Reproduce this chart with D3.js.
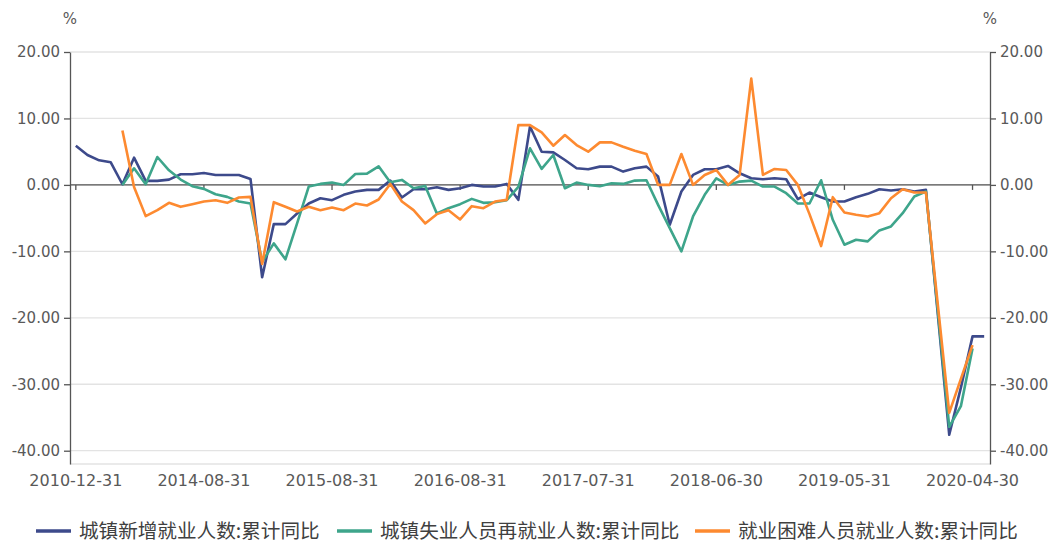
<!DOCTYPE html>
<html lang="zh">
    <head>
        <meta charset="utf-8">
        <title>就业人数累计同比</title>
        <script type="text/javascript" src="https://d3js.org/d3.v7.min.js"></script>
        <style type="text/css">
          body {
            margin: 0;
            background: #fff;
          }
          .axis path,
          .axis line {
            fill: none;
            stroke: #555;
            stroke-width: 1.3px;
          }
          .axis text {
            font-family: "DejaVu Sans", sans-serif;
            font-size: 15px;
            fill: #595959;
          }
          .xlabels text {
            font-size: 16px;
          }
          .grid line {
            stroke: #e3e3e3;
            stroke-width: 1.3px;
          }
          .unit {
            font-family: "DejaVu Sans", sans-serif;
            font-size: 15px;
            fill: #595959;
          }
          .legend text {
            font-family: "Noto Sans CJK SC", sans-serif;
            font-size: 19.6px;
            fill: #404040;
          }
          .series {
            fill: none;
            stroke-width: 2.6px;
            stroke-linejoin: round;
          }
        </style>
    </head>
    <body>
        <script type="text/javascript">
          var w = 1058;
          var h = 546;
          var marginLeft = 70;
          var marginRight = 68;
          var marginTop = 52;
          var plotBottom = 464;

          // months on the x axis (annual points first, then monthly)
          var dates = [
            "2010-12-31","2011-12-31","2012-12-31","2013-12-31",
            "2014-01-31","2014-02-28","2014-03-31","2014-04-30","2014-05-31","2014-06-30",
            "2014-07-31","2014-08-31","2014-09-30","2014-10-31","2014-11-30","2014-12-31",
            "2015-02-28","2015-03-31","2015-04-30","2015-05-31","2015-06-30","2015-07-31",
            "2015-08-31","2015-09-30","2015-10-31","2015-11-30","2015-12-31",
            "2016-02-29","2016-03-31","2016-04-30","2016-05-31","2016-06-30","2016-07-31",
            "2016-08-31","2016-09-30","2016-10-31","2016-11-30","2016-12-31",
            "2017-01-31","2017-02-28","2017-03-31","2017-04-30","2017-05-31","2017-06-30",
            "2017-07-31","2017-08-31","2017-09-30","2017-10-31","2017-11-30","2017-12-31",
            "2018-01-31","2018-02-28","2018-03-31","2018-04-30","2018-05-31","2018-06-30",
            "2018-07-31","2018-08-31","2018-09-30","2018-10-31","2018-11-30","2018-12-31",
            "2019-01-31","2019-02-28","2019-03-31","2019-04-30","2019-05-31","2019-06-30",
            "2019-07-31","2019-08-31","2019-09-30","2019-10-31","2019-11-30","2019-12-31",
            "2020-01-31","2020-02-29","2020-03-31","2020-04-30","2020-05-31"
          ];

          var tickDates = ["2010-12-31","2014-08-31","2015-08-31","2016-08-31",
                           "2017-07-31","2018-06-30","2019-05-31","2020-04-30"];
          var yTicks = [20, 10, 0, -10, -20, -30, -40];

          var seriesNames = ["城镇新增就业人数:累计同比",
                             "城镇失业人员再就业人数:累计同比",
                             "就业困难人员就业人数:累计同比"];
          var colors = ["#3d4a8b", "#3ea58b", "#fd8a30"];

          // 城镇新增就业人数:累计同比
          var newJobs = [
            5.9, 4.5, 3.7, 3.4, 0.1, 4.1, 0.6, 0.6, 0.8, 1.6,
            1.6, 1.8, 1.5, 1.5, 1.5, 0.9, -13.9, -5.9, -5.9, -4.3,
            -2.8, -2.0, -2.3, -1.5, -1.0, -0.75, -0.75, 0.65, -1.9, -0.65,
            -0.65, -0.35, -0.75, -0.5, 0.0, -0.25, -0.25, 0.15, -2.25, 8.8,
            5.0, 4.9, 3.75, 2.5, 2.35, 2.75, 2.75, 2.0, 2.5, 2.75,
            1.25, -6.0, -1.0, 1.5, 2.35, 2.35, 2.85, 1.75, 1.0, 0.85,
            1.0, 0.85, -2.15, -1.15, -1.85, -2.5, -2.5, -1.85, -1.35, -0.65,
            -0.85, -0.65, -1.0, -0.75, -19.1, -37.6, -30.5, -22.8, -22.8
          ];

          // 城镇失业人员再就业人数:累计同比
          var reemployed = [
            null, null, null, null, 0.0, 2.5, 0.1, 4.2, 2.2, 0.8,
            -0.2, -0.6, -1.4, -1.8, -2.5, -2.8, -11.6, -8.8, -11.2, -5.8,
            -0.25, 0.15, 0.35, 0.0, 1.65, 1.7, 2.8, 0.4, 0.75, -0.5,
            -0.15, -4.3, -3.5, -2.9, -2.1, -2.7, -2.6, -2.3, -0.3, 5.5,
            2.4, 4.5, -0.5, 0.35, 0.0, -0.2, 0.25, 0.15, 0.65, 0.7,
            -3.0, -6.5, -10.0, -4.75, -1.5, 1.0, 0.0, 0.5, 0.65, -0.25,
            -0.25, -1.25, -2.8, -2.8, 0.7, -5.25, -9.0, -8.25, -8.5, -6.85,
            -6.25, -4.25, -1.75, -1.0, -18.6, -36.4, -33.3, -24.6, null
          ];

          // 就业困难人员就业人数:累计同比
          var hardToEmploy = [
            null, null, null, null, 8.2, -0.3, -4.7, -3.8, -2.7, -3.3,
            -2.9, -2.5, -2.3, -2.7, -1.9, -1.8, -11.9, -2.6, -3.3, -4.0,
            -3.3, -3.8, -3.4, -3.8, -2.8, -3.1, -2.2, 0.15, -2.5, -3.8,
            -5.8, -4.4, -3.8, -5.2, -3.2, -3.5, -2.5, -2.25, 9.0, 9.0,
            7.9, 5.9, 7.5, 6.0, 5.0, 6.4, 6.4, 5.75, 5.15, 4.65,
            0.0, 0.0, 4.65, 0.0, 1.5, 2.25, 0.0, 1.5, 16.0, 1.5,
            2.4, 2.25, 0.0, -4.4, -9.2, -1.85, -4.15, -4.5, -4.75, -4.25,
            -2.0, -0.65, -1.15, -1.15, -17.7, -34.3, -29.2, -24.1, null
          ];

          var allSeries = [newJobs, reemployed, hardToEmploy];

          var svg = d3.select("body").append("svg")
                      .attr("width", w)
                      .attr("height", h);

          var xScale = d3.scaleBand()
                         .domain(dates)
                         .range([marginLeft, w - marginRight]);
          var yScale = d3.scaleLinear()
                         .domain([-42, 20])
                         .range([plotBottom, marginTop]);

          function xCenter(d) {
            return xScale(d) + xScale.bandwidth() / 2;
          }

          // horizontal grid
          svg.append("g")
             .attr("class", "grid")
             .selectAll("line")
             .data(yTicks.concat([-42]))
             .enter()
             .append("line")
             .attr("x1", marginLeft)
             .attr("x2", w - marginRight)
             .attr("y1", function(d) { return yScale(d); })
             .attr("y2", function(d) { return yScale(d); });

          // left and right y axes
          var fmt = function(d) { return d.toFixed(2); };
          svg.append("g")
             .attr("class", "axis")
             .attr("transform", "translate(" + marginLeft + ",0)")
             .call(d3.axisLeft(yScale).tickValues(yTicks).tickFormat(fmt)
                     .tickSizeInner(6).tickSizeOuter(0).tickPadding(4));
          svg.append("g")
             .attr("class", "axis")
             .attr("transform", "translate(" + (w - marginRight) + ",0)")
             .call(d3.axisRight(yScale).tickValues(yTicks).tickFormat(fmt)
                     .tickSizeInner(6).tickSizeOuter(0).tickPadding(4));

          // x axis line with ticks sits on zero
          var xAxisZero = svg.append("g")
             .attr("class", "axis")
             .attr("transform", "translate(0," + yScale(0) + ")")
             .call(d3.axisBottom(xScale).tickValues(tickDates).tickFormat("")
                     .tickSizeInner(5).tickSizeOuter(0));
          xAxisZero.select(".domain").attr("d", "M" + marginLeft + ",0H" + (w - marginRight));

          // x labels along the bottom
          var xLabels = svg.append("g")
             .attr("class", "axis xlabels")
             .attr("transform", "translate(0," + plotBottom + ")")
             .call(d3.axisBottom(xScale).tickValues(tickDates)
                     .tickSize(0).tickPadding(11));
          xLabels.select(".domain").remove();

          // units
          svg.append("text").attr("class", "unit")
             .attr("x", marginLeft).attr("y", 24)
             .attr("text-anchor", "middle").text("%");
          svg.append("text").attr("class", "unit")
             .attr("x", w - marginRight).attr("y", 24)
             .attr("text-anchor", "middle").text("%");

          // lines
          var line = d3.line()
                       .defined(function(d) { return d != null; })
                       .x(function(d, i) { return xCenter(dates[i]); })
                       .y(function(d) { return yScale(d); });

          svg.selectAll("path.series")
             .data(allSeries)
             .enter()
             .append("path")
             .attr("class", "series")
             .attr("stroke", function(d, i) { return colors[i]; })
             .attr("d", line);

          // legend
          var legendX = [36, 337, 695];
          var legend = svg.append("g").attr("class", "legend")
                          .selectAll("g")
                          .data(seriesNames)
                          .enter()
                          .append("g")
                          .attr("transform", function(d, i) {
                            return "translate(" + legendX[i] + ",531)";
                          });
          legend.append("line")
                .attr("x1", 0).attr("x2", 35)
                .attr("y1", 0).attr("y2", 0)
                .attr("stroke", function(d, i) { return colors[i]; })
                .attr("stroke-width", 3.5);
          legend.append("text")
                .attr("x", 43)
                .attr("dy", "0.35em")
                .text(function(d) { return d; });
        </script>
    </body>
</html>
